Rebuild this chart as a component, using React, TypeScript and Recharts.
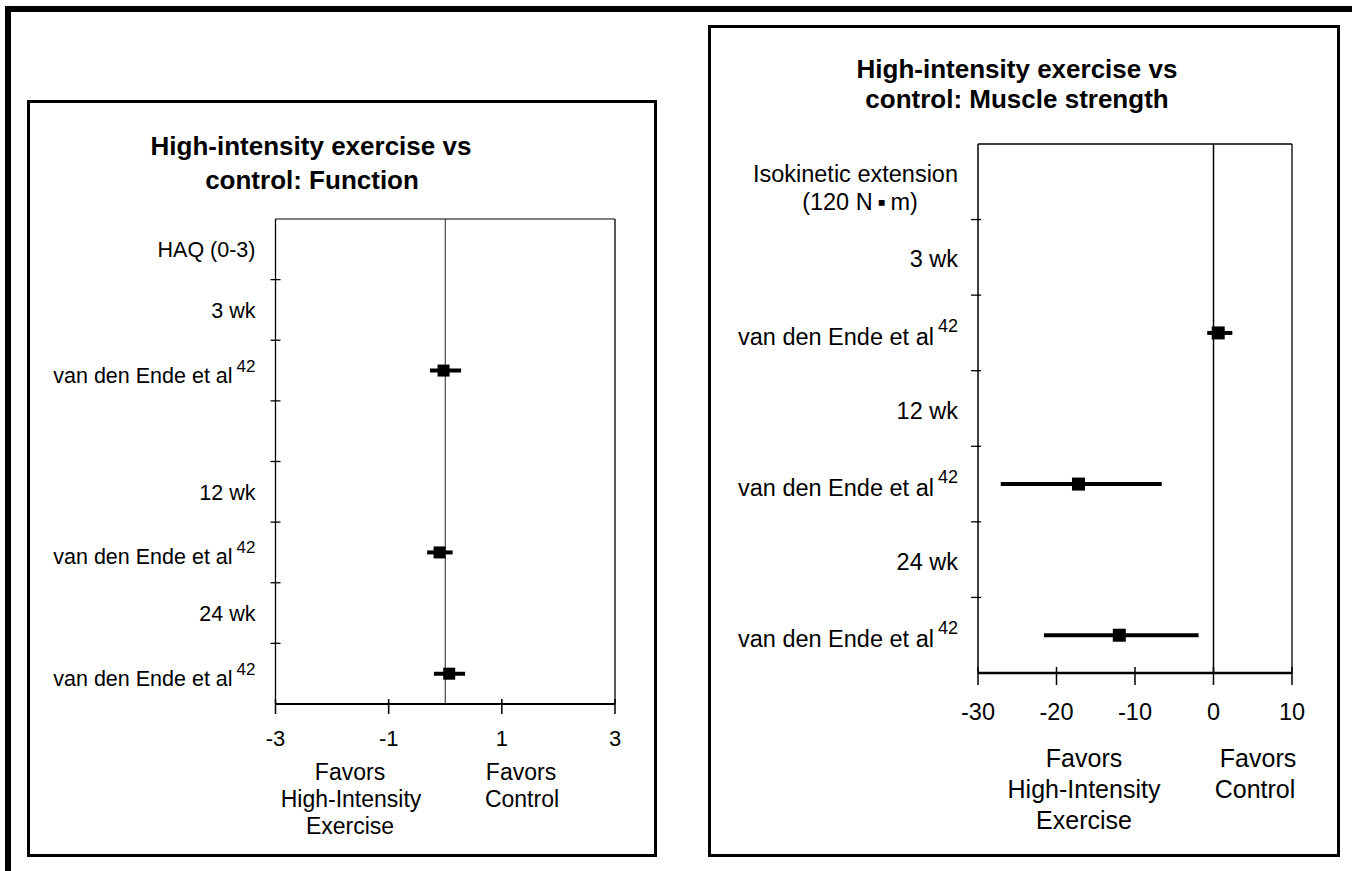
import React from "react"
import {
  ScatterChart,
  Scatter,
  XAxis,
  YAxis,
  ErrorBar,
  ReferenceLine,
} from "recharts"

const FONT = "'Liberation Sans', Arial, Helvetica, sans-serif"

// left panel: function (HAQ)
const fnRows = ["HAQ (0-3)", "3 wk", "van den Ende et al", "", "12 wk", "van den Ende et al", "24 wk", "van den Ende et al"]
const fnRefs = ["", "", "42", "", "", "42", "", "42"]
const fnStudyRows = [2, 5, 7]
const fnMean = [-0.03, -0.1, 0.07]
const fnLow = [-0.27, -0.32, -0.2]
const fnHigh = [0.28, 0.13, 0.35]
const fnXTicks = [-3, -1, 1, 3]

// right panel: muscle strength
const msRows = ["Isokinetic extension", "3 wk", "van den Ende et al", "12 wk", "van den Ende et al", "24 wk", "van den Ende et al"]
const msSubLine = "(120 N\u2009\u25AA\u2009m)"
const msRefs = ["", "", "42", "", "42", "", "42"]
const msStudyRows = [2, 4, 6]
const msMean = [0.6, -17.2, -12.0]
const msLow = [-0.8, -27.1, -21.6]
const msHigh = [2.4, -6.6, -1.9]
const msXTicks = [-30, -20, -10, 0, 10]

function buildPoints(rows: number[], mean: number[], low: number[], high: number[]) {
  return rows.map((r, i) => ({
    x: mean[i],
    y: r + 0.5,
    err: [mean[i] - low[i], high[i] - mean[i]],
  }))
}

function rowTicks(n: number) {
  const t: number[] = []
  for (let i = 0; i < n; i++) t.push(i + 0.5)
  for (let i = 1; i < n; i++) t.push(i)
  return t
}

interface TickCfg {
  fontSize: number
  supSize: number
  supDy: number
  plainDy: number
  refDy: number
  gap: number
  tickIn: number
  tickOut: number
}

function makeYTick(rows: string[], refs: string[], cfg: TickCfg, subLine?: string) {
  return (props: any) => {
    const { x, y, payload } = props
    const v = payload.value
    if (Number.isInteger(v)) {
      return (
        <line x1={x - cfg.tickIn} x2={x + cfg.tickOut} y1={y} y2={y} stroke="#000" strokeWidth={1.3} />
      )
    }
    const i = Math.floor(v)
    const label = rows[i]
    if (!label) return <g />
    if (i === 0 && subLine) {
      return (
        <g fontFamily={FONT} fontSize={cfg.fontSize} fill="#000">
          <text x={x - cfg.gap} y={y} textAnchor="end">{label}</text>
          <text x={x - 118} y={y + 28} textAnchor="middle">{subLine}</text>
        </g>
      )
    }
    const ref = refs[i]
    return (
      <text
        x={x - cfg.gap}
        y={y + (ref ? cfg.refDy : cfg.plainDy)}
        textAnchor="end"
        fontFamily={FONT}
        fontSize={cfg.fontSize}
        fill="#000"
      >
        <tspan>{label}</tspan>
        {ref ? (
          <tspan dx={4} dy={cfg.supDy} fontSize={cfg.supSize}>{ref}</tspan>
        ) : null}
      </text>
    )
  }
}

function makeXTick(fontSize: number, up: number, down: number, labelDy: number) {
  return (props: any) => {
    const { x, y, payload } = props
    return (
      <g>
        <line x1={x} x2={x} y1={y - up} y2={y + down} stroke="#000" strokeWidth={1.5} />
        <text x={x} y={y + labelDy} textAnchor="middle" fontFamily={FONT} fontSize={fontSize} fill="#000">
          {payload.value}
        </text>
      </g>
    )
  }
}

const Txt = ({ x, y, size, bold, children }: any) => (
  <div
    style={{
      position: "absolute",
      left: x,
      top: y,
      transform: "translate(-50%, -50%)",
      fontSize: size,
      fontWeight: bold ? 700 : 400,
      fontFamily: FONT,
      whiteSpace: "nowrap",
      lineHeight: 1,
      color: "#000",
    }}
  >
    {children}
  </div>
)

function square(s: number) {
  return (p: any) => <rect x={p.cx - s / 2} y={p.cy - s / 2} width={s} height={s} fill="#000" />
}

export default function App() {
  const fnData = buildPoints(fnStudyRows, fnMean, fnLow, fnHigh)
  const msData = buildPoints(msStudyRows, msMean, msLow, msHigh)

  const fnTickCfg: TickCfg = { fontSize: 21.5, supSize: 17, supDy: -11, plainDy: 8, refDy: 12, gap: 20, tickIn: 5, tickOut: 5 }
  const msTickCfg: TickCfg = { fontSize: 23.5, supSize: 18, supDy: -13, plainDy: 10, refDy: 12, gap: 20, tickIn: 7, tickOut: 3 }

  return (
    <div style={{ position: "absolute", left: 0, top: 0, width: 1352, height: 871, background: "#fff", overflow: "hidden" }}>
      {/* outer frame */}
      <div style={{ position: "absolute", left: 5, top: 6, width: 1347, height: 6, background: "#000" }} />
      <div style={{ position: "absolute", left: 5, top: 6, width: 6, height: 865, background: "#000" }} />

      {/* panel boxes */}
      <div style={{ position: "absolute", left: 27, top: 100, width: 630, height: 757, border: "3px solid #000", boxSizing: "border-box" }} />
      <div style={{ position: "absolute", left: 708, top: 25, width: 632, height: 832, border: "3px solid #000", boxSizing: "border-box" }} />

      {/* left: function */}
      <Txt x={311} y={146} size={26} bold>High-intensity exercise vs</Txt>
      <Txt x={312} y={180} size={26} bold>control: Function</Txt>
      <div style={{ position: "absolute", left: 28, top: 101 }}>
        <ScatterChart width={628} height={754} margin={{ top: 118, right: 41, bottom: 91, left: 7.5 }}>
          <XAxis
            type="number"
            dataKey="x"
            domain={[-3, 3]}
            ticks={fnXTicks}
            interval={0}
            allowDataOverflow
            height={60}
            tickLine={false}
            tickSize={0}
            tickMargin={0}
            axisLine={{ stroke: "#000", strokeWidth: 2 }}
            tick={makeXTick(22, 5, 10, 42)}
          />
          <YAxis
            type="number"
            dataKey="y"
            domain={[0, fnRows.length]}
            reversed
            ticks={rowTicks(fnRows.length)}
            interval={0}
            allowDataOverflow
            width={240}
            tickLine={false}
            tickSize={0}
            tickMargin={0}
            axisLine={{ stroke: "#000", strokeWidth: 1.3 }}
            tick={makeYTick(fnRows, fnRefs, fnTickCfg)}
          />
          <ReferenceLine y={0} stroke="#000" strokeWidth={1} />
          <ReferenceLine x={3} stroke="#000" strokeWidth={1.3} />
          <ReferenceLine x={0} stroke="#222" strokeWidth={1} />
          <Scatter data={fnData} isAnimationActive={false} shape={square(12)}>
            <ErrorBar dataKey="err" direction="x" width={0} strokeWidth={4} stroke="#000" isAnimationActive={false} />
          </Scatter>
        </ScatterChart>
      </div>
      <Txt x={350} y={772} size={23}>Favors</Txt>
      <Txt x={351} y={799} size={23}>High-Intensity</Txt>
      <Txt x={350} y={826} size={23}>Exercise</Txt>
      <Txt x={521} y={772} size={23}>Favors</Txt>
      <Txt x={522} y={799} size={23}>Control</Txt>

      {/* right: muscle strength */}
      <Txt x={1017} y={69} size={26} bold>High-intensity exercise vs</Txt>
      <Txt x={1017} y={99} size={26} bold>control: Muscle strength</Txt>
      <div style={{ position: "absolute", left: 709, top: 26 }}>
        <ScatterChart width={630} height={830} margin={{ top: 118, right: 47, bottom: 123, left: 9 }}>
          <XAxis
            type="number"
            dataKey="x"
            domain={[-30, 10]}
            ticks={msXTicks}
            interval={0}
            allowDataOverflow
            height={60}
            tickLine={false}
            tickSize={0}
            tickMargin={0}
            axisLine={{ stroke: "#000", strokeWidth: 2.5 }}
            tick={makeXTick(23.5, 6, 12, 47)}
          />
          <YAxis
            type="number"
            dataKey="y"
            domain={[0, msRows.length]}
            reversed
            ticks={rowTicks(msRows.length)}
            interval={0}
            allowDataOverflow
            width={260}
            tickLine={false}
            tickSize={0}
            tickMargin={0}
            axisLine={{ stroke: "#000", strokeWidth: 1.5 }}
            tick={makeYTick(msRows, msRefs, msTickCfg, msSubLine)}
          />
          <ReferenceLine y={0} stroke="#000" strokeWidth={1.5} />
          <ReferenceLine x={10} stroke="#000" strokeWidth={1.3} />
          <ReferenceLine x={0} stroke="#000" strokeWidth={1.5} />
          <Scatter data={msData} isAnimationActive={false} shape={square(13)}>
            <ErrorBar dataKey="err" direction="x" width={0} strokeWidth={4} stroke="#000" isAnimationActive={false} />
          </Scatter>
        </ScatterChart>
      </div>
      <Txt x={1084} y={758} size={25}>Favors</Txt>
      <Txt x={1084} y={789} size={25}>High-Intensity</Txt>
      <Txt x={1084} y={820} size={25}>Exercise</Txt>
      <Txt x={1258} y={758} size={25}>Favors</Txt>
      <Txt x={1255} y={789} size={25}>Control</Txt>
    </div>
  )
}
